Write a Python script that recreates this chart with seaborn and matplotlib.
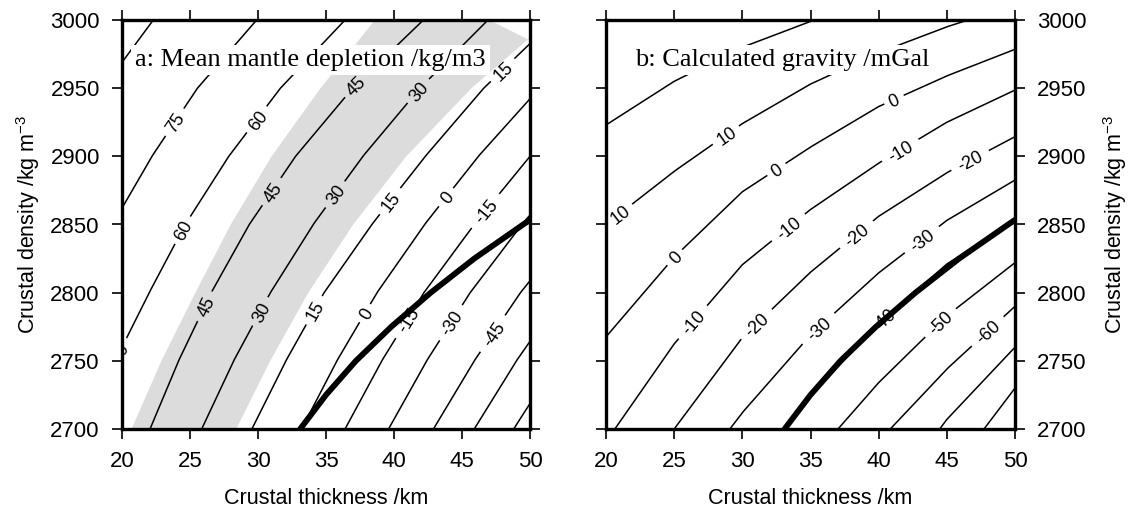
import numpy as np
import matplotlib
matplotlib.use("Agg")
import matplotlib.pyplot as plt
import seaborn as sns

sns.set_theme(style="white")
plt.rcParams["font.family"] = ["Liberation Sans", "DejaVu Sans"]
plt.rcParams["mathtext.default"] = "regular"
for key in ("text.color", "axes.labelcolor", "xtick.color", "ytick.color"):
    plt.rcParams[key] = "black"

# ---- panel a: mean mantle depletion (kg/m3) ----
# thickness (km) at which each contour crosses these crustal densities
rho_rows = [2700, 2750, 2800, 2850, 2900, 2950, 3000]
depl_lines = {
    90: [np.nan, 8.5, 10.9, 13.0, 15.3, 18.6, 22.3],
    75: [12.2, 14.4, 16.75, 19.3, 22.2, 25.55, 29.9],
    60: [17.1, 19.5, 22.0, 24.65, 27.85, 31.65, 36.4],
    45: [22.06, 24.16, 26.56, 29.36, 32.76, 36.96, 42.16],
    30: [25.86, 28.21, 30.91, 34.06, 37.71, 41.91, 46.91],
    15: [29.55, 32.05, 34.86, 38.37, 42.3, 46.6, 51.8],
    0: [33.2, 35.8, 38.75, 42.25, 46.2, 50.7, 56.0],
    -15: [36.4, 39.1, 42.2, 45.9, 50.0, 54.8, 60.3],
    -30: [39.6, 42.4, 45.6, 49.4, 53.7, 58.6, 64.3],
    -45: [42.9, 45.9, 49.3, 53.3, 57.8, 62.9, 68.8],
    -60: [45.9, 49.0, 52.5, 56.6, 61.2, 66.4, 72.4],
    -75: [48.8, 52.0, 55.6, 59.8, 64.5, 69.8, 75.9],
}
# densities at which the contour labels sit
depl_labels = {
    75: [2925],
    60: [2756, 2846, 2927],
    45: [2790, 2874, 2952],
    30: [2786, 2872, 2948],
    15: [2787, 2867, 2963],
    0: [2785, 2870],
    -15: [2780, 2860],
    -30: [2778],
    -45: [2770],
}
# shaded band (thickness of its edges at rho_rows)
band_left = [20.7, 22.9, 25.4, 28.0, 31.0, 34.6, 38.6]
band_right = [28.4, 30.9, 33.7, 37.0, 40.9, 45.7, 51.5]
band_cap_t = [47.0, 50.0]
band_cap_rho = [3000, 2985]

# ---- panel b: calculated gravity (mGal) ----
# density at which each contour crosses these thicknesses
t_cols = [20, 25, 30, 35, 40, 45, 50]
grav_lines = {
    20: [2923, 2955, 2980, 2999, 3015, 3029, 3042],
    10: [2850, 2889, 2924, 2953, 2976, 2995, 3011],
    0: [2767.6, 2826, 2874, 2906.8, 2936.5, 2959, 2978.5],
    -10: [2690.7, 2762.4, 2820.5, 2861, 2895, 2925, 2948.6],
    -20: [2630, 2700, 2767, 2815, 2856, 2888, 2914.4],
    -30: [2580, 2647, 2712, 2769, 2814.5, 2853, 2882.6],
    -40: [2525, 2594, 2660, 2724, 2777.5, 2821, 2853.3],
    -50: [2470, 2540, 2610, 2677, 2734, 2783, 2822],
    -60: [2415, 2485, 2555, 2625, 2691, 2744, 2790],
    -70: [2360, 2430, 2500, 2570, 2640, 2707, 2760],
    -80: [2305, 2375, 2445, 2515, 2590, 2664, 2730],
}
# thicknesses at which the contour labels sit
grav_labels = {
    20: [27.7],
    10: [21.0, 28.8],
    0: [25.04, 32.5, 41.1],
    -10: [26.38, 33.35, 41.57],
    -20: [31.03, 38.36, 46.7],
    -30: [35.55, 43.16],
    -40: [40.3],
    -50: [44.5],
    -60: [48.0],
}

# thick curve drawn on both panels
thick_rho = [2700, 2725, 2750, 2775, 2800, 2825, 2850, 2875]
thick_t = [33.1, 35.0, 37.2, 39.8, 42.7, 45.9, 49.5, 53.2]

fig = plt.figure(figsize=(11.28, 5.11), dpi=100)
ax_a = fig.add_axes([122 / 1128, 1 - 429 / 511, 408 / 1128, 409 / 511])
ax_b = fig.add_axes([606 / 1128, 1 - 429 / 511, 409 / 1128, 409 / 511])

for ax in (ax_a, ax_b):
    ax.set_xlim(20, 50)
    ax.set_ylim(2700, 3000)
    ax.set_xticks(range(20, 51, 5))
    ax.set_yticks(range(2700, 3001, 50))
    for s in ax.spines.values():
        s.set_linewidth(2.4)
        s.set_color("black")
    ax.tick_params(direction="out", length=7.5, width=1.2, color="black",
                   labelsize=16, pad=8.5, top=True, right=True, bottom=True, left=True)
    ax.set_xlabel("Crustal thickness /km", fontsize=15.5, labelpad=11)
    ax.set_facecolor("white")

ax_a.set_ylabel("Crustal density /kg m$^{-3}$", fontsize=15.5, labelpad=6)
ax_b.tick_params(labelleft=False, labelright=True)
ax_b.yaxis.set_label_position("right")
ax_b.set_ylabel("Crustal density /kg m$^{-3}$", fontsize=15.5, labelpad=10)


def draw_contour(ax, xs, ys, label_pts, text, lw=1.1):
    xs = np.asarray(xs, float)
    ys = np.asarray(ys, float)
    ok = ~(np.isnan(xs) | np.isnan(ys))
    xs, ys = xs[ok], ys[ok]
    # dense copy of the polyline, only so the line can be broken under labels
    fx, fy = [], []
    for i in range(len(xs) - 1):
        s = np.linspace(0, 1, 60, endpoint=False)
        fx.extend(xs[i] + s * (xs[i + 1] - xs[i]))
        fy.extend(ys[i] + s * (ys[i + 1] - ys[i]))
    fx.append(xs[-1])
    fy.append(ys[-1])
    fx, fy = np.array(fx), np.array(fy)
    disp = ax.transData.transform(np.column_stack([fx, fy]))
    keep = np.ones(len(fx), bool)
    half = 5 + 5.2 * len(text)
    for lx, ly in label_pts:
        p = ax.transData.transform((lx, ly))
        d = np.hypot(disp[:, 0] - p[0], disp[:, 1] - p[1])
        keep &= d > half
        j = np.argmin(d)
        j0, j1 = max(j - 3, 0), min(j + 3, len(fx) - 1)
        ang = np.degrees(np.arctan2(disp[j1, 1] - disp[j0, 1], disp[j1, 0] - disp[j0, 0]))
        if ang > 90:
            ang -= 180
        if ang < -90:
            ang += 180
        ax.text(lx, ly, text, rotation=ang, rotation_mode="anchor", ha="center",
                va="center_baseline", fontsize=13, color="black", clip_on=True, zorder=4)
    px = np.where(keep, fx, np.nan)
    py = np.where(keep, fy, np.nan)
    ax.plot(px, py, color="black", lw=lw, zorder=3, solid_capstyle="butt")


# panel a
band_t = list(band_left) + band_cap_t + list(band_right[::-1])
band_r = list(rho_rows) + band_cap_rho + list(rho_rows[::-1])
ax_a.fill(band_t, band_r, color="#dcdcdc", lw=0, zorder=1)
for lev, ts in depl_lines.items():
    ts_arr = np.asarray(ts, float)
    ok = ~np.isnan(ts_arr)
    pts = [(np.interp(r, np.asarray(rho_rows)[ok], ts_arr[ok]), r) for r in depl_labels.get(lev, [])]
    draw_contour(ax_a, ts, rho_rows, pts, str(lev))

# panel b
for lev, rs in grav_lines.items():
    pts = [(t, np.interp(t, t_cols, rs)) for t in grav_labels.get(lev, [])]
    draw_contour(ax_b, t_cols, rs, pts, str(lev))

for ax in (ax_a, ax_b):
    sns.lineplot(x=thick_t, y=thick_rho, ax=ax, color="black", lw=4.2, sort=False,
                 estimator=None, zorder=6)

title_font = ["Liberation Serif", "DejaVu Serif"]
ax_a.text(0.032, 0.888, "a: Mean mantle depletion /kg/m3", transform=ax_a.transAxes,
          family=title_font, fontsize=19, va="baseline",
          bbox=dict(facecolor="white", edgecolor="none", pad=3), zorder=7)
ax_b.text(0.071, 0.888, "b: Calculated gravity /mGal", transform=ax_b.transAxes,
          family=title_font, fontsize=19, va="baseline",
          bbox=dict(facecolor="white", edgecolor="none", pad=3), zorder=7)

fig.savefig("out.png", dpi=100)
